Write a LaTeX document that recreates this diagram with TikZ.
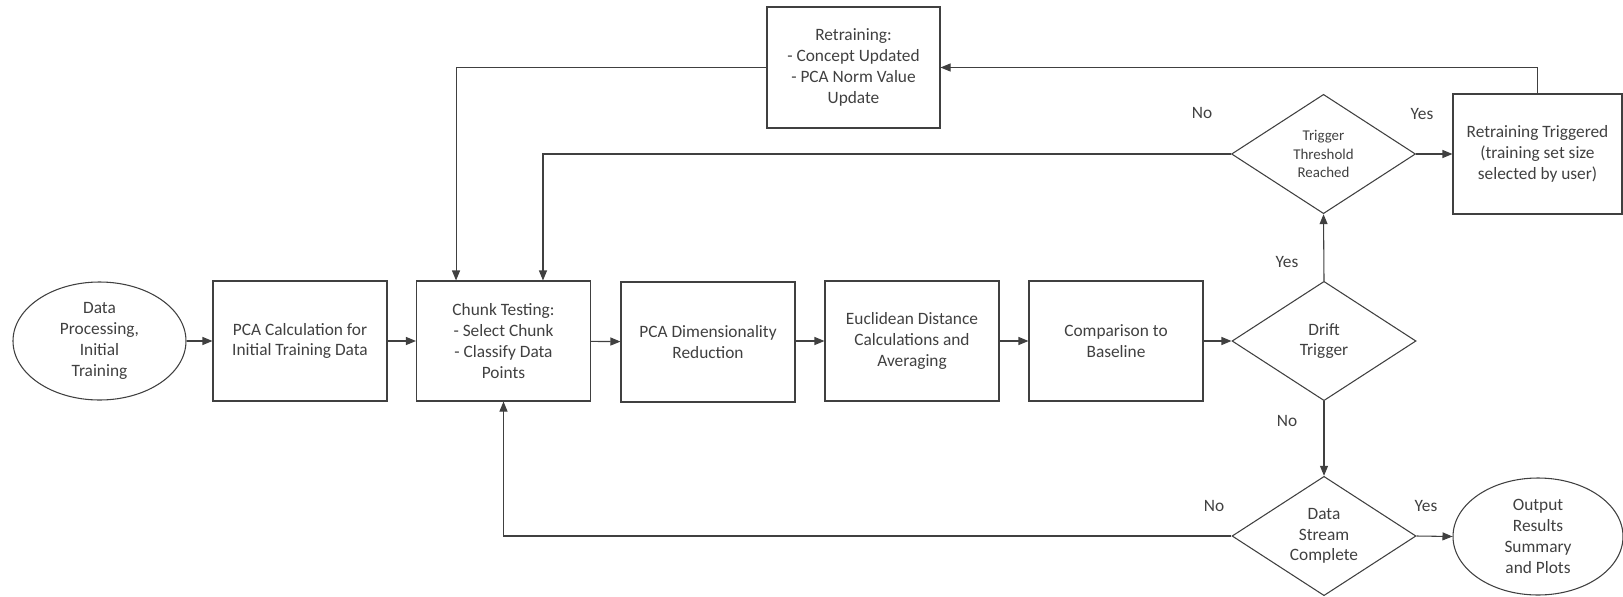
\documentclass[tikz,border=0pt]{standalone}
\usepackage{fontspec}
\setmainfont{Carlito}
\usetikzlibrary{shapes.geometric,arrows.meta}
\definecolor{ink}{RGB}{64,64,64}
\begin{document}
\begin{tikzpicture}[x=0.75pt,y=-0.75pt,
  every node/.style={text=ink, font=\fontsize{13}{15.6}\selectfont},
  proc/.style={draw=ink, line width=0.8pt, rectangle, minimum width=130.5pt,
    minimum height=90pt, inner sep=0pt, align=center},
  term/.style={draw=ink, line width=0.8pt, ellipse, inner sep=0pt, align=center},
  decide/.style={draw=ink, line width=0.8pt, diamond, aspect=1.53, inner sep=0pt,
    minimum width=138pt, minimum height=89.5pt, align=center},
  small/.style={font=\fontsize{11.2}{14}\selectfont},
  flow/.style={draw=ink, line width=0.8pt, -{Triangle[length=7.5pt,width=6pt]}},
  lbl/.style={inner sep=0pt}]
\useasboundingbox (0,0) rectangle (1623,596);

% main pipeline
\node[term, minimum width=129.75pt, minimum height=88.5pt] (dp) at (99.5,341)
  {Data\\Processing,\\Initial\\Training};
\node[proc] (pcacalc) at (300,341) {PCA Calculation for\\Initial Training Data};
\node[proc] (chunk) at (503.5,341) {Chunk Testing:\\- Select Chunk\\- Classify Data\\Points};
\node[proc] (pcadim) at (708,342) {PCA Dimensionality\\Reduction};
\node[proc] (eucl) at (912,341) {Euclidean Distance\\Calculations and\\Averaging};
\node[proc] (comp) at (1116,341) {Comparison to\\Baseline};

% decisions
\node[decide] (drift) at (1324,341) {Drift\\Trigger};
\node[decide, small] (trig) at (1323.5,154) {Trigger\\Threshold\\Reached};
\node[decide] (dsc) at (1324,536) {Data\\Stream\\Complete};

% retraining branch and end
\node[proc, minimum width=126.75pt] (retrig) at (1537.5,154)
  {Retraining Triggered\\(training set size\\selected by user)};
\node[proc, minimum width=129.75pt, minimum height=90.75pt] (retrain) at (853.5,67.5)
  {Retraining:\\- Concept Updated\\- PCA Norm Value\\Update};
\node[term, minimum width=127.5pt, minimum height=87.75pt] (out) at (1538,536.5)
  {Output\\Results\\Summary\\and Plots};

% connectors
\draw[flow] (dp) -- (pcacalc);
\draw[flow] (pcacalc) -- (chunk);
\draw[flow] (chunk) -- (pcadim);
\draw[flow] (pcadim.east |- eucl.west) -- (eucl);
\draw[flow] (eucl) -- (comp);
\draw[flow] (comp) -- (drift.west);
\draw[flow] (drift.north) -- (trig.south);
\draw[flow] (drift.south) -- (dsc.north);
\draw[flow] (trig.east) -- (retrig.west);
\draw[flow] (dsc.east) -- (out.west);
\draw[flow] (trig.west) -| ([xshift=29.6pt]chunk.north);
\draw[flow] (retrig.north) |- (retrain.east);
\draw[flow] (retrain.west) -| ([xshift=-35.6pt]chunk.north);
\draw[flow] (dsc.west) -| (chunk.south);

% branch labels
\node[lbl] (l1) at (1202,113) {No};
\node[lbl] (l2) at (1422,114) {Yes};
\node[lbl] (l3) at (1287,262) {Yes};
\node[lbl] (l4) at (1287,421) {No};
\node[lbl] (l5) at (1214,506) {No};
\node[lbl] (l6) at (1426,506) {Yes};
\end{tikzpicture}
\end{document}
